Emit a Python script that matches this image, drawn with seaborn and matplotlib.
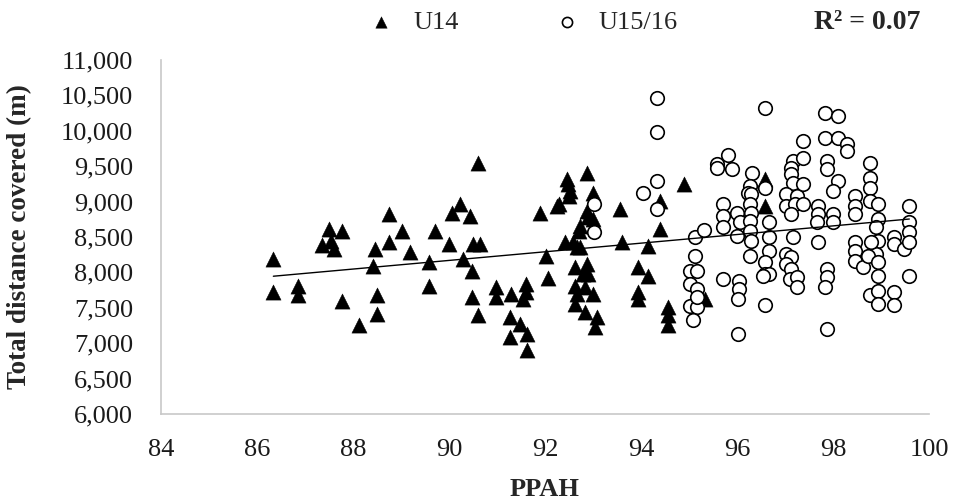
import matplotlib
matplotlib.use("Agg")

import matplotlib.pyplot as plt
import numpy as np
import pandas as pd
import seaborn as sns
from matplotlib.ticker import StrMethodFormatter

# U14 players (triangles)
u14_ppah = [
    86.34, 86.34, 86.85, 86.85, 87.50, 87.78, 87.35, 87.55, 87.60, 87.78,
    88.13, 88.50, 88.50, 88.42, 88.46, 88.74, 88.74, 89.01, 89.19, 89.59,
    89.59, 89.71, 90.00, 90.22, 90.07, 90.30,
    90.44, 90.61, 90.50, 90.65, 90.47, 90.47, 90.61, 90.98, 90.98, 91.29,
    91.26, 91.26, 91.48, 91.62, 91.62, 91.60, 91.60, 91.55, 91.90, 92.01,
    92.07,
    92.87, 92.46, 92.48, 92.52, 92.50, 92.30, 92.25, 93.00, 92.87, 92.90,
    93.00, 92.73, 92.70, 93.56, 92.42, 92.59, 92.66, 92.73, 93.60, 94.15,
    92.62, 92.87, 92.80, 92.90, 93.94, 94.15, 92.62, 92.83, 93.00, 92.66,
    93.94,
    92.62, 92.83, 93.08, 93.04, 93.94, 94.40, 94.40, 94.57, 94.57, 94.57,
    94.90, 95.33, 96.58, 96.58,
]
u14_dist = [
    8190, 7720, 7814, 7674, 8611, 8588, 8380, 8450, 8330, 7603,
    7252, 7674, 7416, 8096, 8330, 8424, 8822, 8588, 8283, 8143,
    7814, 8588, 8400, 8963, 8846, 8190,
    8799, 9550, 8400, 8400, 8025, 7650, 7392, 7791, 7650, 7697,
    7369, 7088, 7275, 7135, 6900, 7838, 7720, 7626, 8846, 8236,
    7920,
    9409, 9315, 9245, 9151, 9080, 8963, 8940, 9127, 8869, 8776,
    8752, 8658, 8588, 8893, 8424, 8424, 8354, 8354, 8424, 8377,
    8072, 8119, 7979, 7979, 8072, 7955, 7814, 7791, 7697, 7697,
    7720,
    7556, 7439, 7369, 7228, 7626, 9010, 8611, 7510, 7392, 7252,
    9245, 7626, 9315, 8939,
]

# U15/16 players (open circles)
u1516_ppah = [
    94.33, 94.33, 94.33, 94.05, 94.33, 93.02, 93.02,
    95.13, 95.32, 95.13, 95.03, 95.17, 95.03, 95.17, 95.03, 95.17, 95.08, 95.17,
    95.71, 95.71, 95.71, 95.71, 95.59, 95.59, 95.82, 95.89,
    95.99, 95.99, 96.06, 96.05, 96.05, 96.03, 96.03,
    96.31, 96.27, 96.23, 96.30, 96.27, 96.30, 96.27, 96.27, 96.30, 96.27,
    96.58, 96.58, 96.67, 96.67, 96.67, 96.58, 96.58, 96.67, 96.55, 96.58,
    97.17, 97.13, 97.13, 97.17, 97.03, 97.24, 97.03, 97.20, 97.13, 97.38,
    97.38, 97.38, 97.38, 97.17,
    97.03, 97.13, 97.03, 97.13, 97.10, 97.26, 97.26,
    97.83, 98.11, 97.83, 98.11, 98.29, 98.29,
    97.87, 97.87, 98.11, 98.00, 97.69, 97.69, 97.66, 98.00, 98.00, 97.69,
    97.87, 97.87, 97.83, 97.87,
    98.46, 98.46, 98.46,
    98.77, 98.77, 98.77, 98.77,
    98.94, 98.94, 98.90, 98.94, 98.90,
    98.46, 98.46, 98.46, 98.63, 98.73, 98.80, 98.94, 98.94,
    98.77, 98.94, 98.94,
    99.27, 99.27, 99.27, 99.27, 99.47,
    99.59, 99.59, 99.59, 99.59, 99.59,
]
u1516_dist = [
    10463, 9985, 9291, 9127, 8893, 8963, 8564,
    8494, 8597, 8236, 8025, 8025, 7838, 7768, 7530, 7510, 7322, 7650,
    8963, 8799, 8635, 7908, 9526, 9479, 9653, 9456,
    8846, 8517, 8705, 7885, 7768, 7626, 7135,
    9409, 9221, 9127, 9104, 8963, 8846, 8729, 8588, 8447, 8236,
    10323, 9198, 8705, 8494, 8307, 8143, 7979, 7979, 7955, 7533,
    9573, 9479, 9385, 9268, 9104, 9080, 8939, 8963, 8822, 8963,
    9854, 9620, 9245, 8494,
    8260, 8213, 8119, 8049, 7908, 7931, 7791,
    10252, 10205, 9900, 9900, 9807, 9713,
    9573, 9456, 9291, 9151, 8939, 8822, 8705, 8822, 8705, 8424,
    8049, 7931, 7791, 7206,
    9080, 8939, 8822,
    9550, 9338, 9198, 9010,
    8963, 8752, 8635, 8447, 8260,
    8424, 8307, 8166, 8072, 8236, 8424, 8143, 7955,
    7674, 7744, 7556,
    7720, 7533, 8494, 8400, 8330,
    8939, 8705, 8564, 8424, 7955,
]

x_ticks = [84, 86, 88, 90, 92, 94, 96, 98, 100]
y_ticks = [6000, 6500, 7000, 7500, 8000, 8500, 9000, 9500, 10000, 10500, 11000]
r2_text = "R² = 0.07"

u14 = pd.DataFrame({"PPAH": u14_ppah, "distance": u14_dist, "group": "U14"})
u1516 = pd.DataFrame({"PPAH": u1516_ppah, "distance": u1516_dist, "group": "U15/16"})
df = pd.concat([u14, u1516], ignore_index=True)

sns.set_style("white")
plt.rcParams["font.family"] = ["Liberation Serif", "DejaVu Serif"]

fig = plt.figure(figsize=(9.54, 4.99), dpi=100)
ax = fig.add_axes([0.1688, 0.1703, 0.8050, 0.7095])

sns.scatterplot(data=u14, x="PPAH", y="distance", marker="^", s=120,
                color="black", edgecolor="black", linewidth=0.3,
                label="U14", ax=ax, zorder=3)
sns.scatterplot(data=u1516, x="PPAH", y="distance", marker="o", s=95,
                color="white", edgecolor="black", linewidth=1.2,
                label="U15/16", ax=ax, zorder=3)
# linear trend over all players
sns.regplot(data=df, x="PPAH", y="distance", scatter=False, ci=None,
            color="black", line_kws={"linewidth": 1.0, "zorder": 4}, ax=ax)

ax.set_xlim(84, 100)
ax.set_ylim(6000, 11000)
ax.set_xticks(x_ticks)
ax.set_yticks(y_ticks)
ax.yaxis.set_major_formatter(StrMethodFormatter("{x:,.0f}"))
ax.tick_params(axis="both", length=0, labelsize=19, colors="#1a1a1a")
ax.tick_params(axis="y", pad=20)
ax.tick_params(axis="x", pad=18)

ax.set_xlabel("PPAH", fontsize=19, fontweight="bold", labelpad=12)
ax.set_ylabel("Total distance covered (m)", fontsize=19.5, fontweight="bold",
              labelpad=21)

for side in ["top", "right"]:
    ax.spines[side].set_visible(False)
for side in ["left", "bottom"]:
    ax.spines[side].set_color("#c8c8c8")
    ax.spines[side].set_linewidth(1.2)

handles, labels = ax.get_legend_handles_labels()
ax.get_legend().remove()
fig.legend(handles, labels, loc="center", bbox_to_anchor=(0.548, 0.955),
           ncol=2, frameon=False, fontsize=19, markerscale=0.75,
           handlelength=1.0, handletextpad=0.7, columnspacing=3.6)
fig.text(0.909, 0.955, r2_text, ha="center", va="center", fontsize=20,
         fontweight="bold")

fig.savefig("out.png", dpi=100)
